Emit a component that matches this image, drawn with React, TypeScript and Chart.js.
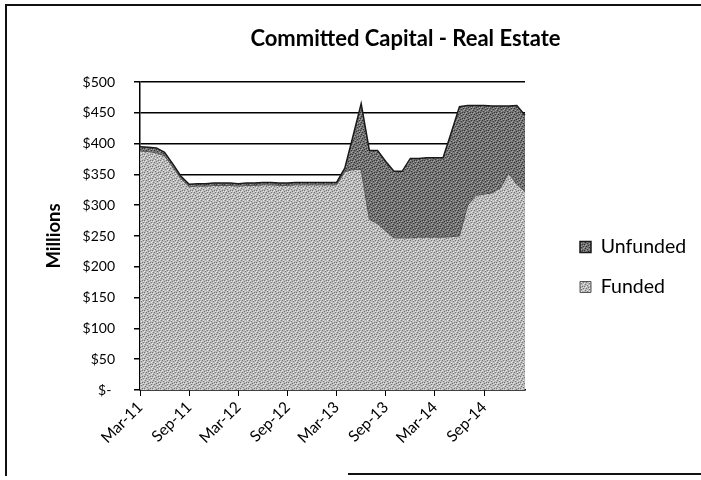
import React, { useEffect, useRef } from "react";
import { Chart, registerables } from "chart.js";

Chart.register(...registerables);

const months = [
  "Mar-11", "Apr-11", "May-11", "Jun-11", "Jul-11", "Aug-11", "Sep-11", "Oct-11", "Nov-11", "Dec-11",
  "Jan-12", "Feb-12", "Mar-12", "Apr-12", "May-12", "Jun-12", "Jul-12", "Aug-12", "Sep-12", "Oct-12", "Nov-12", "Dec-12",
  "Jan-13", "Feb-13", "Mar-13", "Apr-13", "May-13", "Jun-13", "Jul-13", "Aug-13", "Sep-13", "Oct-13", "Nov-13", "Dec-13",
  "Jan-14", "Feb-14", "Mar-14", "Apr-14", "May-14", "Jun-14", "Jul-14", "Aug-14", "Sep-14", "Oct-14", "Nov-14", "Dec-14",
  "Jan-15", "Feb-15",
];

// $ millions
const funded = [
  388, 387, 385, 380, 362, 343, 330, 331, 331, 332, 332, 332, 331, 332, 332, 333, 333, 332, 332, 333, 333, 333, 333, 333,
  333, 354, 358, 358, 277, 270, 258, 247, 247, 247, 248, 248, 248, 248, 249, 250, 300, 316, 318, 320, 328, 352, 334, 322,
];

const unfunded = [
  7, 7, 8, 6, 5, 4, 4, 4, 4, 4, 4, 4, 4, 4, 4, 4, 4, 4, 4, 4, 4, 4, 4, 4,
  4, 6, 54, 107, 112, 119, 113, 108, 108, 129, 128, 129, 129, 129, 169, 210, 162, 146, 144, 141, 133, 109, 128, 124,
];

const seriesNames = ["Funded", "Unfunded"];
const chartTitle = "Committed Capital - Real Estate";
const yAxisTitle = "Millions";

const FONT = "Lato, 'Open Sans', sans-serif";

function makePattern(base: string, dark: string, light: string, mask: string[]): CanvasPattern | string {
  const c = document.createElement("canvas");
  const h = mask.length;
  const w = mask[0].length;
  c.width = w;
  c.height = h;
  const g = c.getContext("2d");
  if (!g) return base;
  g.fillStyle = base;
  g.fillRect(0, 0, w, h);
  for (let y = 0; y < h; y++) {
    for (let x = 0; x < w; x++) {
      const ch = mask[y][x];
      if (ch === "d") {
        g.fillStyle = dark;
        g.fillRect(x, y, 1, 1);
      } else if (ch === "l") {
        g.fillStyle = light;
        g.fillRect(x, y, 1, 1);
      }
    }
  }
  const p = g.createPattern(c, "repeat");
  return p || base;
}

const MASK = [
  "..d..l.d",
  "l....d..",
  ".d.l...l",
  "...d.l..",
  "d.l...d.",
  ".l..d..l",
];

// invisible spacer axis options (reserve room in the layout only)
const spacer = (width: number, weight: number) => ({
  type: "linear",
  position: "right",
  display: true,
  weight,
  grid: { display: false, drawTicks: false },
  border: { display: false },
  ticks: { display: false },
  afterFit: (s: any) => {
    s.width = width;
  },
});

export default function App() {
  const ref = useRef<HTMLCanvasElement>(null);

  useEffect(() => {
    const canvas = ref.current;
    if (!canvas) return;
    const fundedFill = makePattern("#b9b9b9", "#767676", "#e6e6e6", MASK);
    const unfundedFill = makePattern("#727272", "#353535", "#a4a4a4", MASK);

    const chart = new Chart(canvas, {
      type: "line",
      data: {
        labels: months,
        datasets: [
          {
            label: seriesNames[0],
            data: funded,
            fill: "origin",
            backgroundColor: fundedFill as any,
            borderColor: "#555555",
            borderWidth: 1,
            pointRadius: 0,
            tension: 0,
          },
          {
            label: seriesNames[1],
            data: unfunded,
            fill: "-1",
            backgroundColor: unfundedFill as any,
            borderColor: "#1a1a1a",
            borderWidth: 1.5,
            pointRadius: 0,
            tension: 0,
          },
        ],
      },
      options: {
        animation: false,
        responsive: false,
        devicePixelRatio: 1,
        // the original chart object extends past the right edge of the picture
        layout: { padding: { left: 0, right: -110, top: 6, bottom: 6 } },
        plugins: {
          tooltip: { enabled: false },
          title: {
            display: true,
            text: chartTitle,
            color: "#000",
            font: { family: FONT, size: 22, weight: "bold" },
            padding: { top: 19.8, bottom: 29.8 },
          },
          legend: {
            position: "right",
            reverse: true,
            align: "center",
            maxWidth: 132,
            title: { display: true, text: "", font: { size: 12 }, padding: { top: 0, bottom: 39.6 } },
            labels: {
              boxWidth: 11,
              boxHeight: 11,
              padding: 20.5,
              color: "#000",
              font: { family: FONT, size: 19.5 },
            },
          },
        },
        scales: {
          x: {
            type: "category",
            offset: false,
            grid: { drawOnChartArea: false, drawTicks: true, tickLength: 6, color: "#000", lineWidth: 1 },
            border: { display: true, color: "#000", width: 1.5 },
            ticks: {
              autoSkip: false,
              maxRotation: 45,
              minRotation: 45,
              padding: 2,
              color: "#000",
              font: { family: FONT, size: 15.5 },
              callback: (_v: any, i: number) => (i % 6 === 0 ? months[i] : null),
            },
            afterFit: (s: any) => {
              s.height = 84;
              s.paddingLeft = 0;
              s.paddingRight = 0;
            },
          },
          y: {
            stacked: true,
            min: 0,
            max: 500,
            grid: { color: "#000", lineWidth: 1.5, drawTicks: true, tickLength: 6 },
            border: { display: true, color: "#000", width: 1.5 },
            ticks: {
              stepSize: 50,
              padding: 19,
              color: "#000",
              font: { family: FONT, size: 14 },
              callback: (v: any) => (Number(v) === 0 ? "$- " : "$" + v),
            },
            title: {
              display: true,
              text: yAxisTitle,
              color: "#000",
              font: { family: FONT, size: 18.5, weight: "bold" },
              padding: { top: 43, bottom: 0 },
            },
            afterFit: (s: any) => {
              s.width = 140;
            },
          },
          gap: spacer(34.5, 0),
          edge: spacer(119.5, 2000),
        },
      } as any,
    });
    return () => chart.destroy();
  }, []);

  return (
    <div style={{ position: "absolute", left: 0, top: 0, width: 701, height: 480, background: "#fff", overflow: "hidden" }}>
      <div
        style={{
          position: "absolute",
          left: 5,
          top: 4,
          width: 760,
          height: 470,
          borderLeft: "2px solid #111",
          borderTop: "2px solid #111",
        }}
      />
      <div style={{ position: "absolute", left: 348, top: 473, width: 400, height: 0, borderTop: "2px solid #111" }} />
      <canvas ref={ref} width={701} height={480} style={{ position: "absolute", left: 0, top: 0 }} />
    </div>
  );
}
